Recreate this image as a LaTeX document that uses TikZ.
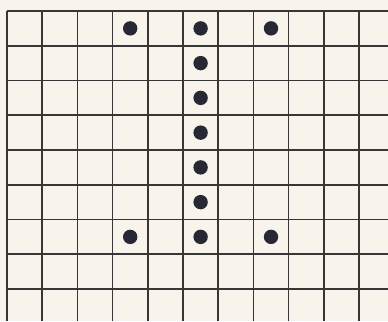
\documentclass[tikz,border=0pt]{standalone}
\definecolor{paper}{RGB}{248,244,236}
\definecolor{gridink}{RGB}{55,55,55}
\definecolor{dotink}{RGB}{40,40,52}
\tikzset{
  gridline/.style={draw=gridink, line width=0.42mm},
  pegdot/.style={circle, fill=dotink, inner sep=0pt, minimum size=3.6mm},
}
\begin{document}
\begin{tikzpicture}[x=0.25mm,y=-0.25mm]
\fill[paper] (0,0) rectangle (388,321);
\useasboundingbox (0,0) rectangle (388,321);
% vertical lines
\foreach \i in {0,...,10}{
  \draw[gridline] ({7+35.2*\i},11) -- ({7+35.2*\i},321);
}
% horizontal lines
\foreach \j in {0,...,8}{
  \draw[gridline] (7,{11+34.75*\j}) -- (388,{11+34.75*\j});
}
% dots: column centres x = 7+35.2*(c+0.5), row centres y = 11+34.75*(r+0.5)
\node[pegdot] (t3) at ({7+35.2*3.5},{11+34.75*0.5}) {};
\node[pegdot] (t5) at ({7+35.2*5.5},{11+34.75*0.5}) {};
\node[pegdot] (t7) at ({7+35.2*7.5},{11+34.75*0.5}) {};
\foreach \r in {1,...,5}{
  \node[pegdot] (m\r) at ({7+35.2*5.5},{11+34.75*(\r+0.5)}) {};
}
\node[pegdot] (b3) at ({7+35.2*3.5},{11+34.75*6.5}) {};
\node[pegdot] (b5) at ({7+35.2*5.5},{11+34.75*6.5}) {};
\node[pegdot] (b7) at ({7+35.2*7.5},{11+34.75*6.5}) {};
\end{tikzpicture}
\end{document}
